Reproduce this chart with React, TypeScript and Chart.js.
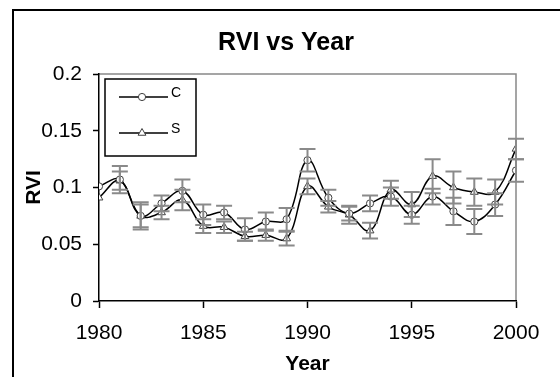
import React, { useEffect, useRef } from "react";
import { Chart, registerables } from "chart.js";

Chart.register(...registerables);

const years = [1980, 1981, 1982, 1983, 1984, 1985, 1986, 1987, 1988, 1989, 1990, 1991, 1992, 1993, 1994, 1995, 1996, 1997, 1998, 1999, 2000];
const cValues = [0.101, 0.107, 0.075, 0.086, 0.097, 0.076, 0.078, 0.063, 0.070, 0.072, 0.124, 0.091, 0.077, 0.086, 0.092, 0.076, 0.092, 0.079, 0.070, 0.085, 0.115];
const sValues = [0.091, 0.106, 0.075, 0.078, 0.089, 0.066, 0.065, 0.057, 0.058, 0.055, 0.101, 0.083, 0.076, 0.062, 0.098, 0.085, 0.110, 0.100, 0.096, 0.096, 0.134];
const cErrors = [0, 0.012, 0.010, 0.007, 0.010, 0.009, 0.006, 0.010, 0.008, 0.010, 0.010, 0.007, 0.006, 0.007, 0.008, 0.008, 0.007, 0.012, 0.011, 0.010, 0.010];
const sErrors = [0, 0.008, 0.012, 0.006, 0.009, 0.006, 0.005, 0.004, 0.005, 0.006, 0.007, 0.005, 0.008, 0.007, 0.008, 0.011, 0.015, 0.014, 0.012, 0.011, 0.009];
const seriesLabels = ["C", "S"];
const xTicks = [1980, 1985, 1990, 1995, 2000];
const yTicks = [0, 0.05, 0.1, 0.15, 0.2];

const FONT = "'Liberation Sans', Arial, Helvetica, sans-serif";

function drawMarker(ctx: CanvasRenderingContext2D, style: string, x: number, y: number, r: number) {
  ctx.save();
  ctx.fillStyle = "#ffffff";
  ctx.strokeStyle = "#404040";
  ctx.lineWidth = 1;
  ctx.beginPath();
  if (style === "triangle") {
    let rad = 0;
    const tt = (2 * Math.PI) / 3;
    ctx.moveTo(x + Math.sin(rad) * r, y - Math.cos(rad) * r);
    rad += tt;
    ctx.lineTo(x + Math.sin(rad) * r, y - Math.cos(rad) * r);
    rad += tt;
    ctx.lineTo(x + Math.sin(rad) * r, y - Math.cos(rad) * r);
    ctx.closePath();
  } else {
    ctx.arc(x, y, r, 0, Math.PI * 2);
  }
  ctx.fill();
  ctx.stroke();
  ctx.restore();
}

const framePlugin = {
  id: "frame",
  beforeDraw(chart: any) {
    const ctx = chart.ctx;
    ctx.save();
    ctx.strokeStyle = "#000";
    ctx.lineWidth = 2;
    ctx.beginPath();
    ctx.moveTo(13, 377);
    ctx.lineTo(13, 10);
    ctx.lineTo(560, 10);
    ctx.stroke();
    const a = chart.chartArea;
    ctx.strokeStyle = "#888888";
    ctx.lineWidth = 1.5;
    ctx.beginPath();
    ctx.moveTo(a.left, a.top);
    ctx.lineTo(a.right, a.top);
    ctx.lineTo(a.right, a.bottom);
    ctx.stroke();
    ctx.restore();
  },
};

const errorPlugin = {
  id: "errorBars",
  afterDatasetsDraw(chart: any) {
    const ctx = chart.ctx;
    const xs = chart.scales.x;
    const ys = chart.scales.y;
    const sets = [
      { vals: cValues, errs: cErrors },
      { vals: sValues, errs: sErrors },
    ];
    ctx.save();
    ctx.strokeStyle = "#8a8a8a";
    ctx.lineWidth = 2;
    sets.forEach((s) => {
      years.forEach((yr, i) => {
        const e = s.errs[i];
        if (!e) return;
        const px = xs.getPixelForValue(yr);
        const top = ys.getPixelForValue(s.vals[i] + e);
        const bot = ys.getPixelForValue(s.vals[i] - e);
        ctx.beginPath();
        ctx.moveTo(px, top);
        ctx.lineTo(px, bot);
        ctx.moveTo(px - 8, top);
        ctx.lineTo(px + 8, top);
        ctx.moveTo(px - 8, bot);
        ctx.lineTo(px + 8, bot);
        ctx.stroke();
      });
    });
    ctx.restore();
  },
};

const legendPlugin = {
  id: "boxLegend",
  afterDraw(chart: any) {
    const ctx = chart.ctx;
    const a = chart.chartArea;
    const bx = a.left + 6;
    const by = a.top + 5;
    ctx.save();
    ctx.fillStyle = "#ffffff";
    ctx.fillRect(bx, by, 91, 77);
    ctx.strokeStyle = "#000";
    ctx.lineWidth = 1.5;
    ctx.strokeRect(bx, by, 91, 77);
    const rows = [
      { label: seriesLabels[0], style: "circle", dy: 18, r: 3.6 },
      { label: seriesLabels[1], style: "triangle", dy: 54, r: 4.5 },
    ];
    rows.forEach((row) => {
      const ly = by + row.dy;
      ctx.strokeStyle = "#000";
      ctx.lineWidth = 1.5;
      ctx.beginPath();
      ctx.moveTo(bx + 14, ly);
      ctx.lineTo(bx + 63, ly);
      ctx.stroke();
      drawMarker(ctx, row.style, bx + 37, ly, row.r);
      ctx.fillStyle = "#000";
      ctx.font = `14px ${FONT}`;
      ctx.textAlign = "left";
      ctx.textBaseline = "middle";
      ctx.fillText(row.label, bx + 66, ly - 4);
    });
    ctx.restore();
  },
};

export default function App() {
  const ref = useRef<HTMLCanvasElement | null>(null);

  useEffect(() => {
    document.body.style.margin = "0";
    if (!ref.current) return;
    const chart = new Chart(ref.current, {
      type: "line",
      data: {
        datasets: [
          {
            label: seriesLabels[0],
            data: years.map((y, i) => ({ x: y, y: cValues[i] })),
            borderColor: "#000",
            borderWidth: 1.5,
            tension: 0.4,
            pointStyle: "circle",
            pointRadius: 3.6,
            pointBackgroundColor: "#ffffff",
            pointBorderColor: "#404040",
            pointBorderWidth: 1,
          },
          {
            label: seriesLabels[1],
            data: years.map((y, i) => ({ x: y, y: sValues[i] })),
            borderColor: "#000",
            borderWidth: 1.5,
            tension: 0.4,
            pointStyle: "triangle",
            pointRadius: 4.5,
            pointBackgroundColor: "#ffffff",
            pointBorderColor: "#404040",
            pointBorderWidth: 1,
          },
        ],
      },
      options: {
        responsive: false,
        animation: false,
        devicePixelRatio: 1,
        layout: { padding: { left: 12, right: 0, top: 0, bottom: 0 } },
        plugins: {
          legend: { display: false },
          tooltip: { enabled: false },
          title: {
            display: true,
            text: "RVI vs Year",
            color: "#000",
            font: { family: FONT, size: 25, weight: "bold" },
            padding: { top: 28, bottom: 16 },
          },
        },
        scales: {
          x: {
            type: "linear",
            min: xTicks[0],
            max: xTicks[xTicks.length - 1],
            afterBuildTicks: (s: any) => {
              s.ticks = xTicks.map((v) => ({ value: v }));
            },
            afterFit: (s: any) => {
              s.height = 76;
            },
            grid: {
              drawOnChartArea: false,
              drawTicks: true,
              tickLength: 7,
              tickColor: "#000",
              tickWidth: 1.5,
            },
            border: { display: true, color: "#000", width: 1.5 },
            ticks: {
              color: "#000",
              font: { family: FONT, size: 21 },
              padding: 13,
              maxRotation: 0,
              callback: (v: any) => String(v),
            },
            title: {
              display: true,
              text: "Year",
              color: "#000",
              font: { family: FONT, size: 21, weight: "bold" },
              padding: { top: 0, bottom: 0 },
            },
          },
          y: {
            type: "linear",
            min: yTicks[0],
            max: yTicks[yTicks.length - 1],
            afterBuildTicks: (s: any) => {
              s.ticks = yTicks.map((v) => ({ value: v }));
            },
            afterFit: (s: any) => {
              s.width = 87;
            },
            grid: {
              drawOnChartArea: false,
              drawTicks: true,
              tickLength: 6,
              tickColor: "#000",
              tickWidth: 1.5,
            },
            border: { display: true, color: "#000", width: 1.5 },
            ticks: {
              color: "#000",
              font: { family: FONT, size: 21 },
              padding: 11,
              callback: (v: any) => String(Number(Number(v).toFixed(2))),
            },
            title: {
              display: true,
              text: "RVI",
              color: "#000",
              font: { family: FONT, size: 21, weight: "bold" },
              padding: { top: 10, bottom: 0 },
            },
          },
          yRight: {
            type: "linear",
            position: "right",
            display: true,
            grid: { display: false, drawTicks: false },
            border: { display: false },
            ticks: { display: false },
            afterFit: (s: any) => {
              s.width = 44;
            },
          },
        },
      } as any,
      plugins: [framePlugin, errorPlugin, legendPlugin],
    });
    return () => chart.destroy();
  }, []);

  return (
    <div style={{ position: "fixed", left: 0, top: 0, width: 560, height: 377, background: "#fff" }}>
      <canvas ref={ref} width={560} height={377} style={{ display: "block" }} />
    </div>
  );
}
